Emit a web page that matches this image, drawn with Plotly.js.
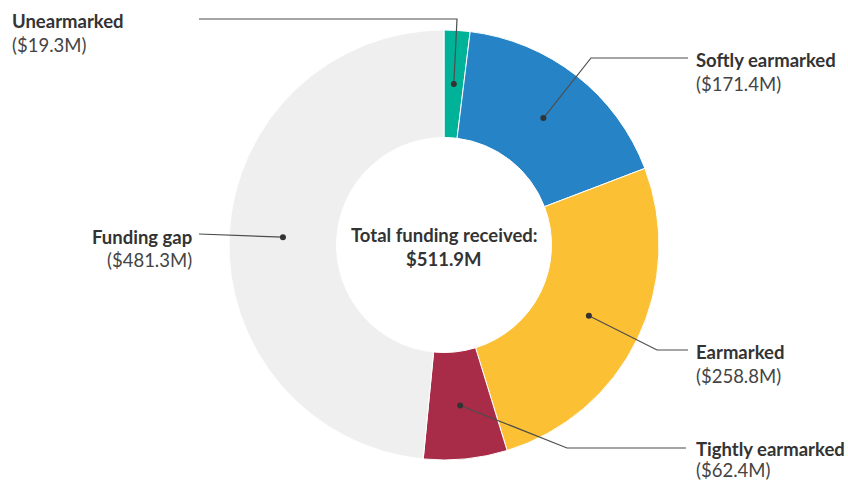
<!DOCTYPE html>
<html><head><meta charset="utf-8">
<script src="https://cdn.plot.ly/plotly-3.0.1.min.js"></script>
<style>html,body{margin:0;padding:0;background:#fff;}#chart{width:848px;height:482px;}</style>
</head><body><div id="chart"></div>
<script>
// ---- data ----
const categories = ["Unearmarked", "Softly earmarked", "Earmarked", "Tightly earmarked", "Funding gap"];
const values = [19.3, 171.4, 258.8, 62.4, 481.3];
const colors = ["#00b398", "#2683c6", "#fcc034", "#a82c48", "#efefef"];
const totalReceivedLabel = "Total funding received:";
const totalReceived = 511.9;

// ---- layout geometry (pixels) ----
const W = 848, H = 482;
const CX = 444, CY = 245, R = 215, HOLE = 0.5;
const FS = 18.5;
const px = x => x / W;
const py = y => 1 - y / H;

// label placement (pixels)
const labelPos = [
  {elbow: [457, 19], end: [199, 19], tx: 11, anchor: "left", ty: 21, vy: 45},
  {elbow: [591, 58], end: [688, 58], tx: 695, anchor: "left", ty: 60, vy: 84},
  {elbow: [657, 350], end: [688, 350], tx: 695, anchor: "left", ty: 352, vy: 376},
  {elbow: [567, 448], end: [686, 448], tx: 695, anchor: "left", ty: 449, vy: 470},
  {elbow: null, end: [199, 234], tx: 193, anchor: "right", ty: 237, vy: 260}
];

const total = values.reduce((a, b) => a + b, 0);
const fmt = v => "($" + v.toFixed(1) + "M)";

const shapes = [], annotations = [];
let cum = 0;
const rMid = R * (1 + HOLE) / 2;
values.forEach((v, i) => {
  const th = 2 * Math.PI * (cum + v / 2) / total;
  cum += v;
  const dx = CX + rMid * Math.sin(th), dy = CY - rMid * Math.cos(th);
  const L = labelPos[i];
  let path = "M" + px(L.end[0]) + "," + py(L.end[1]);
  if (L.elbow) path += " L" + px(L.elbow[0]) + "," + py(L.elbow[1]);
  path += " L" + px(dx) + "," + py(dy);
  shapes.push({type: "path", xref: "paper", yref: "paper", path: path, layer: "above",
    line: {color: "#4d4d4d", width: 1.2}});
  shapes.push({type: "circle", xref: "paper", yref: "paper", layer: "above",
    xsizemode: "pixel", ysizemode: "pixel", xanchor: px(dx), yanchor: py(dy),
    x0: -3, x1: 3, y0: -3, y1: 3, fillcolor: "#333", line: {width: 0}});
  annotations.push({xref: "paper", yref: "paper", x: px(L.tx), y: py(L.ty), xanchor: L.anchor, yanchor: "middle",
    showarrow: false, borderpad: 0, text: "<b>" + categories[i] + "</b>", font: {family: "Lato", size: FS, color: "#333"}});
  annotations.push({xref: "paper", yref: "paper", x: px(L.tx), y: py(L.vy), xanchor: L.anchor, yanchor: "middle",
    showarrow: false, borderpad: 0, text: fmt(v), font: {family: "Lato", size: FS, color: "#444"}});
});
annotations.push({xref: "paper", yref: "paper", x: px(CX), y: py(235), xanchor: "center", yanchor: "middle",
  showarrow: false, borderpad: 0, text: "<b>" + totalReceivedLabel + "</b>", font: {family: "Lato", size: FS, color: "#333"}});
annotations.push({xref: "paper", yref: "paper", x: px(CX), y: py(259), xanchor: "center", yanchor: "middle",
  showarrow: false, borderpad: 0, text: "<b>$" + totalReceived.toFixed(1) + "M</b>", font: {family: "Lato", size: FS, color: "#333"}});

const trace = {
  type: "pie", labels: categories, values: values, hole: HOLE, sort: false,
  direction: "clockwise", rotation: 0, textinfo: "none", hoverinfo: "label+value",
  marker: {colors: colors, line: {color: "#fff", width: 1}},
  domain: {x: [px(CX - R), px(CX + R)], y: [py(CY + R), py(CY - R)]},
  showlegend: false
};

Plotly.newPlot("chart", [trace], {
  width: W, height: H, margin: {l: 0, r: 0, t: 0, b: 0},
  paper_bgcolor: "#fff", showlegend: false,
  font: {family: "Lato"}, shapes: shapes, annotations: annotations
}, {displayModeBar: false, staticPlot: true});
</script></body></html>
